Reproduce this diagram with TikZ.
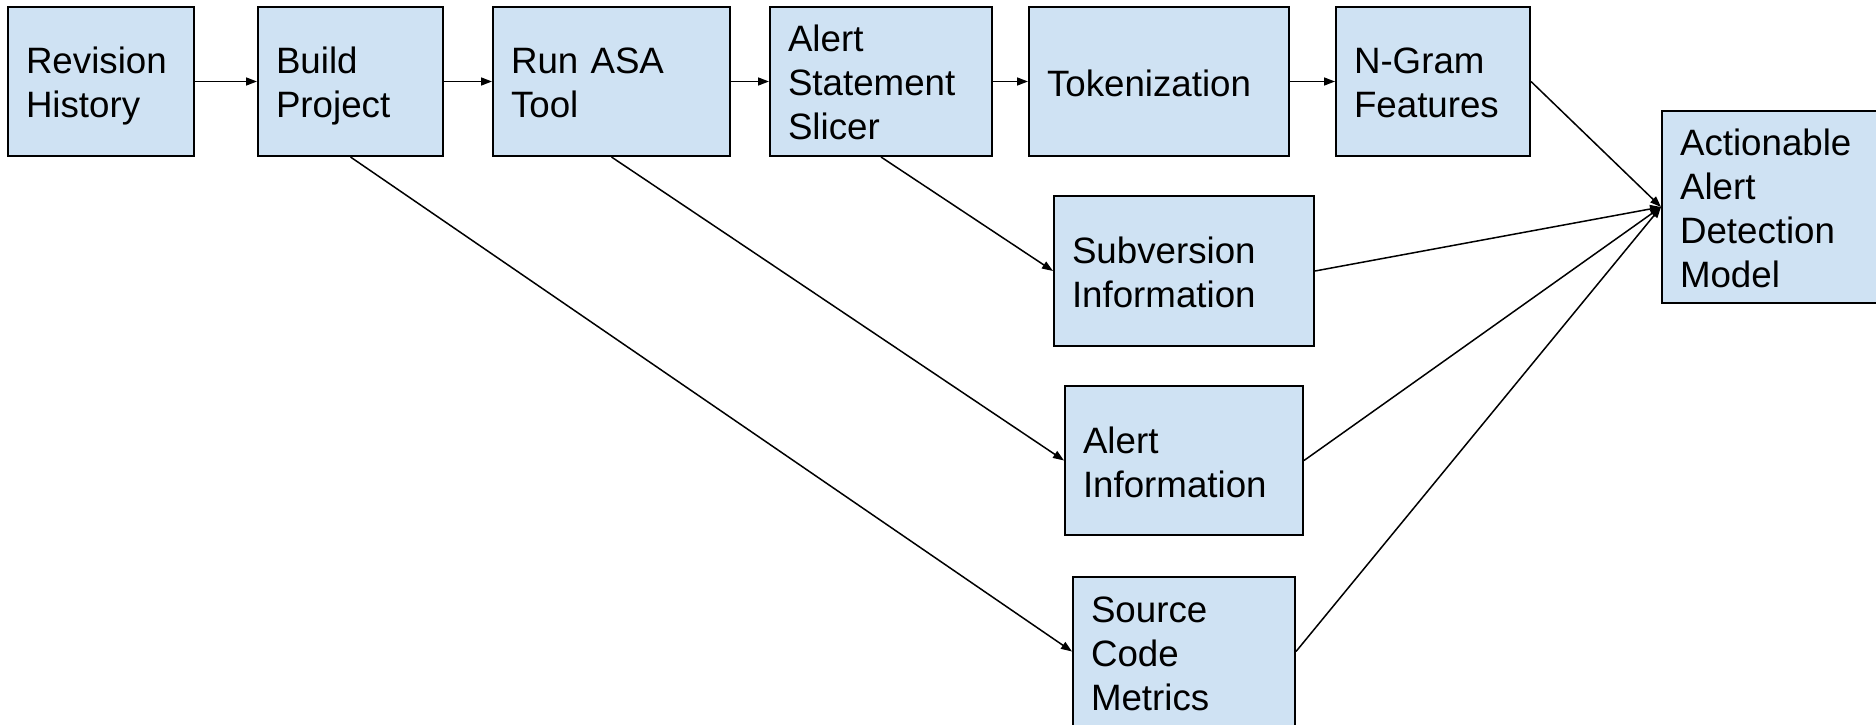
\documentclass[tikz,border=0pt]{standalone}
\usepackage{fontspec}
\setmainfont{Liberation Sans}
\usetikzlibrary{arrows.meta}
\definecolor{boxfill}{HTML}{CFE2F3}
\newcommand\sr{\rule[-7.5pt]{0pt}{44pt}}
\begin{document}
\begin{tikzpicture}[x=1pt,y=-1pt,
  box/.style={draw=black, line width=2pt, fill=boxfill, rectangle, inner xsep=18pt, inner ysep=0pt,
    align=left, font=\fontsize{36.7}{44}\selectfont},
  conn/.style={line width=1.5pt, -{Triangle[length=11pt,width=8pt]}}]
\useasboundingbox (0,0) rectangle (1876,725);
\fill[white] (0,0) rectangle (1876,725);
\node[box, minimum width=186pt, minimum height=149pt, text width=150pt] (rev) at (101,81.5) {\sr Revision\\\sr History};
\node[box, minimum width=185pt, minimum height=149pt, text width=149pt] (build) at (350.5,81.5) {\sr Build\\\sr Project};
\node[box, minimum width=237pt, minimum height=149pt, text width=201pt] (asa) at (611.5,81.5) {\sr Run ASA\\\sr Tool};
\node[box, minimum width=222pt, minimum height=149pt, text width=186pt] (slicer) at (881,81.5) {\sr Alert\\\sr Statement\\\sr Slicer};
\node[box, minimum width=260pt, minimum height=149pt, text width=224pt] (tok) at (1159,81.5) {\sr Tokenization};
\node[box, minimum width=194pt, minimum height=149pt, text width=158pt] (ngram) at (1433,81.5) {\sr N-Gram\\\sr Features};
\node[box, minimum width=258pt, minimum height=192pt, text width=222pt] (act) at (1791,207) {\sr Actionable\\\sr Alert\\\sr Detection\\\sr Model};
\node[box, minimum width=260pt, minimum height=150pt, text width=224pt] (sub) at (1184,271) {\sr Subversion\\\sr Information};
\node[box, minimum width=238pt, minimum height=149pt, text width=202pt] (ainfo) at (1184,460.5) {\sr Alert\\\sr Information};
\node[box, minimum width=222pt, minimum height=149pt, text width=186pt] (src) at (1184,651.5) {\sr Source\\\sr Code\\\sr Metrics};
\draw[conn] (rev) -- (build);
\draw[conn] (build) -- (asa);
\draw[conn] (asa) -- (slicer);
\draw[conn] (slicer) -- (tok);
\draw[conn] (tok) -- (ngram);
\draw[conn] (build.south) -- (src.west);
\draw[conn] (asa.south) -- (ainfo.west);
\draw[conn] (slicer.south) -- (sub.west);
\draw[conn] (ngram.east) -- (act.west);
\draw[conn] (sub.east) -- (act.west);
\draw[conn] (ainfo.east) -- (act.west);
\draw[conn] (src.east) -- (act.west);
\end{tikzpicture}
\end{document}
